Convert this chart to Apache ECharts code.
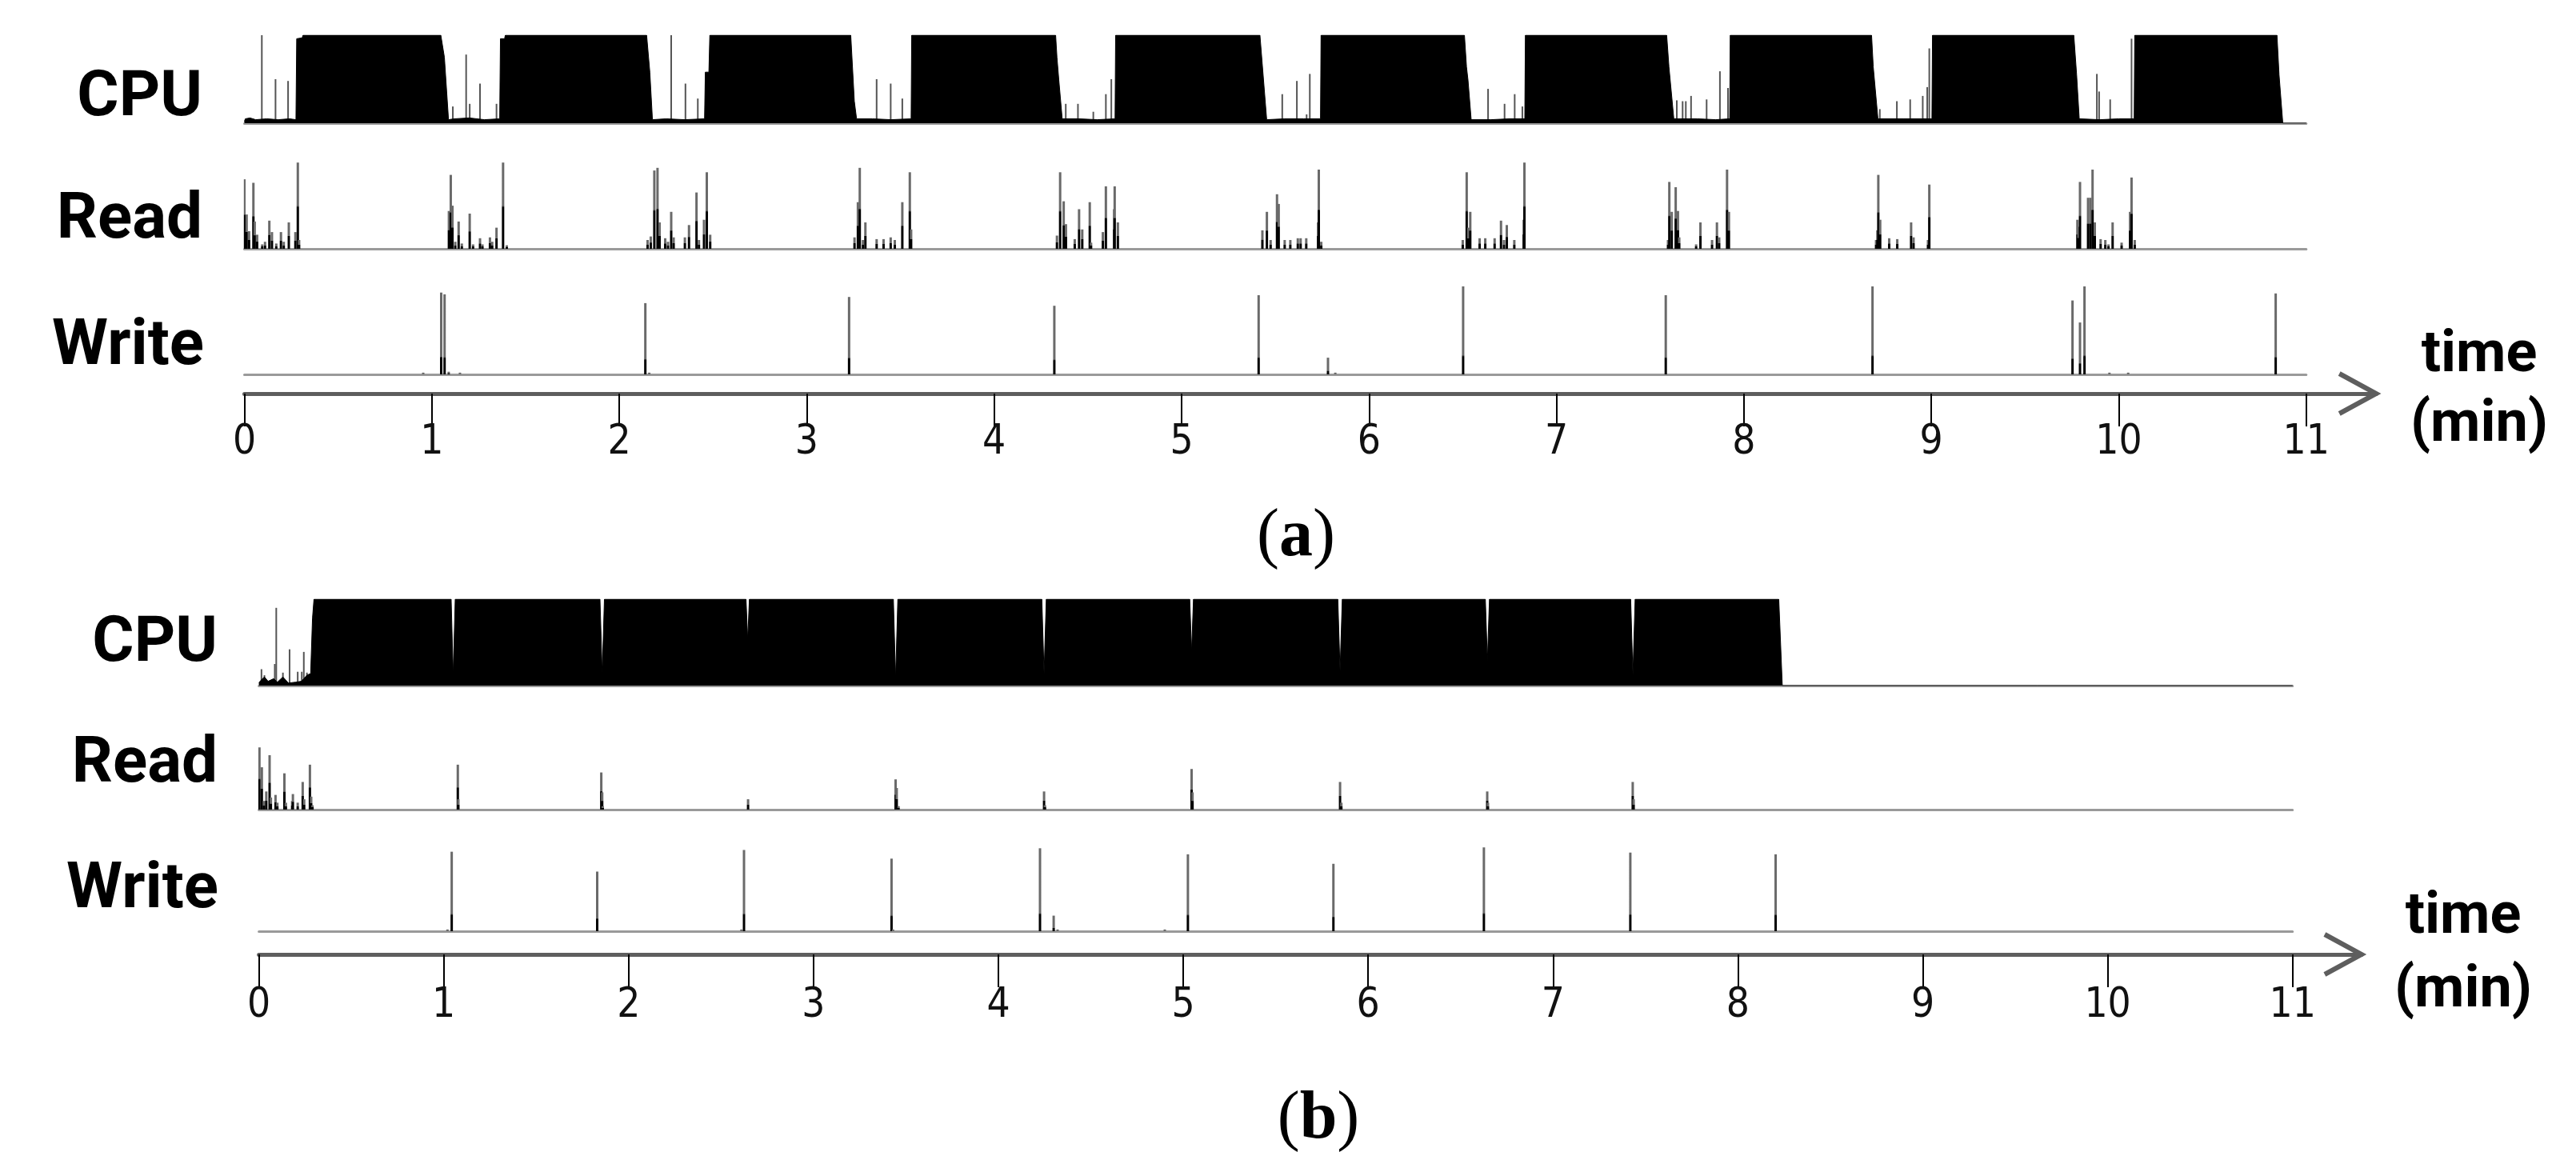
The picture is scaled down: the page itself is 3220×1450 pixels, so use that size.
<!DOCTYPE html>
<html>
<head>
<meta charset="utf-8">
<script src="https://cdn.jsdelivr.net/npm/echarts@6/dist/echarts.min.js"></script>
<style>
html,body{margin:0;padding:0;background:#fff;}
#chart{width:3220px;height:1450px;}
</style>
</head>
<body>
<div id="chart"></div>
<script>
// ---------------- DATA (time in minutes, values in % of panel height) ----------------
const timeTicks = [0,1,2,3,4,5,6,7,8,9,10,11];
const panelNames = ['CPU','Read','Write'];

// (a) CPU utilisation outline
const cpuA = [
 [0,2],[0.005,5],[0.03,6],[0.06,4],[0.12,5],[0.18,4],[0.24,5],[0.275,4],
 [0.279,96],[0.308,97],[0.313,100],
 [1.048,100],[1.067,75],[1.089,4],
 [1.12,5],[1.2,6],[1.28,4],[1.362,5],
 [1.366,96],[1.388,96],[1.392,100],
 [2.146,100],[2.163,58],[2.177,4],
 [2.25,5],[2.35,4],[2.455,5],
 [2.459,58],[2.478,58],[2.483,100],
 [3.235,100],[3.254,25],[3.266,5],
 [3.35,5],[3.45,4],[3.557,5],
 [3.56,100],
 [4.328,100],[4.335,75],[4.345,49],[4.363,5],
 [4.45,5],[4.55,4],[4.645,5],
 [4.648,100],
 [5.418,100],[5.43,68],[5.454,4],
 [5.55,5],[5.65,5],[5.741,5],
 [5.744,100],
 [6.509,100],[6.52,64],[6.528,49],[6.545,4],
 [6.65,4],[6.75,5],[6.831,5],
 [6.834,100],
 [7.588,100],[7.60,64],[7.626,5],
 [7.75,5],[7.85,4],[7.924,5],
 [7.927,100],
 [8.681,100],[8.69,64],[8.715,5],
 [8.85,5],[8.95,5],[9.003,5],
 [9.006,100],
 [9.76,100],[9.775,55],[9.789,5],
 [9.9,4],[10.0,5],[10.082,5],
 [10.085,100],
 [10.844,100],[10.855,55],[10.875,0],
 [11,0]
];
// (a) CPU short bursts during idle phases
const cpuSpikesA = [
 [0.093,100],[0.166,50],[0.233,48],
 [1.112,19],[1.183,78],[1.202,22],[1.257,45],[1.345,22],
 [2.277,100],[2.353,45],[2.419,28],
 [3.373,50],[3.448,45],[3.51,28],
 [4.382,22],[4.447,22],[4.529,13],[4.596,33],[4.625,50],
 [5.537,33],[5.615,48],[5.667,10],[5.684,56],
 [6.635,39],[6.723,22],[6.777,33],[6.818,19],
 [7.642,26],[7.673,25],[7.69,25],[7.718,31],[7.801,27],[7.872,59],[7.915,40],
 [8.725,16],[8.816,25],[8.887,27],[8.954,31],[8.978,41],[8.989,85],
 [9.883,56],[9.895,36],[9.954,27],[10.068,96]
];
// (a) disk read activity
const readA = [
 [0.0,79],[0.012,39],[0.025,20],[0.048,75],[0.055,31],[0.068,16],[0.095,5],[0.11,8],[0.133,32],[0.147,19],[0.17,6],[0.195,19],[0.21,8],[0.237,30],[0.272,19],[0.285,98],[0.292,10],
 [1.091,43],[1.101,84],[1.11,49],[1.125,8],[1.143,31],[1.16,6],[1.202,40],[1.22,5],[1.257,12],[1.27,5],[1.31,13],[1.322,8],[1.345,24],[1.38,98],[1.4,4],
 [2.151,10],[2.168,14],[2.187,89],[2.204,92],[2.215,30],[2.245,12],[2.26,8],[2.277,42],[2.29,13],[2.35,13],[2.372,27],[2.412,64],[2.425,10],[2.452,33],[2.467,87],[2.485,16],
 [3.255,13],[3.273,53],[3.283,92],[3.30,10],[3.313,30],[3.373,11],[3.41,11],[3.448,13],[3.47,10],[3.51,53],[3.55,87],[3.557,22],
 [4.335,15],[4.352,87],[4.371,54],[4.383,28],[4.43,11],[4.453,45],[4.47,22],[4.510,53],[4.517,7],[4.58,19],[4.596,71],[4.64,45],[4.643,71],[4.66,30],
 [5.431,21],[5.455,42],[5.475,10],[5.509,62],[5.518,51],[5.55,10],[5.58,10],[5.62,12],[5.635,12],[5.665,12],[5.728,30],[5.732,90],[5.745,8],
 [6.50,10],[6.521,87],[6.53,24],[6.540,42],[6.59,12],[6.62,12],[6.67,12],[6.704,32],[6.72,10],[6.735,27],[6.775,10],[6.825,33],[6.829,98],
 [7.595,10],[7.602,76],[7.615,42],[7.636,70],[7.648,43],[7.655,13],[7.745,5],[7.768,30],[7.83,10],[7.856,30],[7.868,13],[7.910,90],[7.92,42],
 [8.705,10],[8.712,21],[8.717,84],[8.727,33],[8.775,12],[8.818,11],[8.892,30],[8.905,13],[8.982,10],[8.989,73],
 [9.779,33],[9.785,25],[9.793,76],[9.836,58],[9.848,58],[9.860,90],[9.872,30],[9.903,11],[9.928,10],[9.945,5],[9.967,30],[10.015,7],[10.06,42],[10.068,81],[10.085,10]
];
// (a) disk write activity
const writeA = [
 [0.954,2],[1.05,93],[1.068,91],[1.09,3],[1.15,2],[2.139,81],[2.16,2],[3.226,88],[4.321,78],
 [5.411,90],[5.781,19],[5.82,2],[6.502,100],[7.583,90],[8.686,100],
 [9.753,84],[9.793,59],[9.817,100],[9.95,2],[10.05,2],[10.837,92]
];

// (b) CPU utilisation outline
const cpuB = [
 [0,3],[0.01,6],[0.03,10],[0.05,5],[0.08,8],[0.1,4],[0.13,10],[0.16,3],[0.2,4],[0.23,5],[0.26,12],[0.28,14],
 [0.29,78],[0.298,100],
 [1.040,100],[1.051,12],[1.062,100],
 [1.845,100],[1.857,14],[1.869,100],
 [2.635,100],[2.644,53],[2.653,100],
 [3.432,100],[3.444,8],[3.456,100],
 [4.235,100],[4.247,14],[4.259,100],
 [5.035,100],[5.045,39],[5.055,100],
 [5.836,100],[5.848,17],[5.860,100],
 [6.634,100],[6.645,29],[6.656,100],
 [7.420,100],[7.432,12],[7.444,100],
 [8.221,100],[8.24,0],[11,0]
];
const cpuSpikesB = [
 [0.014,19],[0.03,12],[0.086,25],[0.094,90],[0.13,15],[0.166,42],[0.21,16],[0.232,16],[0.243,39],[0.26,15]
];
const readB = [
 [0.003,72],[0.016,49],[0.028,10],[0.04,21],[0.058,63],[0.065,14],[0.09,17],[0.1,8],[0.138,42],[0.146,8],[0.18,10],[0.184,18],[0.21,8],[0.237,32],[0.245,12],[0.276,52],[0.283,15],[0.29,5],
 [1.076,52],[1.079,12],[1.852,43],[1.857,20],[1.86,4],[2.646,12],[3.444,35],[3.45,25],[3.46,4],
 [4.247,21],[4.252,5],[5.045,47],[5.05,20],[5.848,32],[5.855,8],[6.644,21],[6.648,8],[7.431,32],[7.436,12]
];
const writeB = [
 [1.02,2],[1.043,92],[1.830,69],[2.61,2],[2.624,94],[3.422,84],[3.43,2],[4.225,96],[4.299,18],[4.32,2],
 [4.9,2],[5.025,89],[5.812,78],[6.626,97],[7.418,91],[8.204,89]
];

// ---------------- LAYOUT ----------------
const AXIS_END = 11.373; // arrow tip, in minutes
const panels = [
 {left:305.5, ppm:234.3, tops:[44,201,358], h:110, axisY:492, labelRight:[253,253,255], labelY:[124,277,435],
  cpu:cpuA, cpuSp:cpuSpikesA, read:readA, write:writeA, labelMargin:36,
  timeY:[446,533], timeX:3099, cap:'a', capX:1620, capY:672},
 {left:323.6, ppm:231.1, tops:[749,904,1056], h:108, axisY:1193, labelRight:[272,272,273], labelY:[806,957,1114],
  cpu:cpuB, cpuSp:cpuSpikesB, read:readB, write:writeB, labelMargin:39,
  timeY:[1148,1240], timeX:3079, cap:'b', capX:1648, capY:1400}
];

const chart = echarts.init(document.getElementById('chart'), null, {renderer:'canvas'});
const grids=[], xAxes=[], yAxes=[], series=[], graphics=[];

function grad(stop){
  return new echarts.graphic.LinearGradient(0,0,0,1,[
    {offset:0,color:'#6a6a6a'},{offset:stop,color:'#6a6a6a'},
    {offset:Math.min(1,stop+0.02),color:'#000'},{offset:1,color:'#000'}]);
}

panels.forEach(function(p){
  const w = 11*p.ppm;
  for (let k=0;k<3;k++){
    const gi = grids.length;
    grids.push({left:p.left, top:p.tops[k], width:w, height:p.h, containLabel:false});
    xAxes.push({type:'value', gridIndex:gi, min:0, max:11,
      axisLine:{show:true, lineStyle:{color:'#9a9a9a', width:3}},
      axisTick:{show:false}, axisLabel:{show:false}, splitLine:{show:false}});
    yAxes.push({type:'value', gridIndex:gi, min:0, max:100, show:false});
    if (k===0){
      series.push({type:'line', xAxisIndex:gi, yAxisIndex:gi, data:p.cpu, symbol:'none',
        lineStyle:{color:'#000', width:1}, areaStyle:{color:'#000', opacity:1}, z:3, silent:true});
      series.push({type:'bar', xAxisIndex:gi, yAxisIndex:gi, data:p.cpuSp, barWidth:2,
        itemStyle:{color:'#555'}, z:2, silent:true});
    } else if (k===1){
      series.push({type:'bar', xAxisIndex:gi, yAxisIndex:gi, data:p.read, barWidth:3,
        itemStyle:{color:grad(0.5)}, z:2, silent:true});
    } else {
      series.push({type:'bar', xAxisIndex:gi, yAxisIndex:gi, data:p.write, barWidth:3,
        itemStyle:{color:grad(0.78)}, z:2, silent:true});
    }
    graphics.push({type:'text',
      style:{text:panelNames[k], x:p.labelRight[k], y:p.labelY[k], align:'right', verticalAlign:'middle',
        font:'bold 80px Roboto, "Noto Sans", sans-serif', fill:'#000'}});
  }
  // time axis
  const gi = grids.length;
  grids.push({left:p.left, top:p.axisY-1, width:AXIS_END*p.ppm, height:1});
  xAxes.push({type:'value', gridIndex:gi, min:0, max:AXIS_END, interval:1,
    axisLine:{show:true, lineStyle:{color:'#5e5e5e', width:5}},
    axisTick:{show:true, customValues:timeTicks, length:41, lineStyle:{color:'#000', width:2}},
    axisLabel:{show:true, customValues:timeTicks, margin:p.labelMargin, color:'#111',
      fontFamily:'"Liberation Sans Narrow","DejaVu Sans Condensed",sans-serif', fontSize:51,
      verticalAlign:'top'},
    splitLine:{show:false}});
  yAxes.push({type:'value', gridIndex:gi, min:0, max:1, show:false});
  // arrow head (open chevron)
  const tipX = p.left + AXIS_END*p.ppm;
  graphics.push({type:'polyline', shape:{points:[[tipX-46,p.axisY-25],[tipX,p.axisY],[tipX-46,p.axisY+25]]},
    style:{stroke:'#5e5e5e', lineWidth:6, fill:null, lineJoin:'miter'}, z:10});
  graphics.push({type:'text', style:{text:'time', x:p.timeX, y:p.timeY[0], align:'center', verticalAlign:'middle',
    font:'bold 72px Roboto, "Noto Sans", sans-serif', fill:'#000'}});
  graphics.push({type:'text', style:{text:'(min)', x:p.timeX, y:p.timeY[1], align:'center', verticalAlign:'middle',
    font:'bold 72px Roboto, "Noto Sans", sans-serif', fill:'#000'}});
  graphics.push({type:'text', style:{text:'({b|' + p.cap + '})', x:p.capX, y:p.capY, align:'center', verticalAlign:'middle',
    font:'84px "Liberation Serif", serif', fill:'#000',
    rich:{b:{fontWeight:'bold', fontSize:84, fontFamily:'"Liberation Serif", serif', fill:'#000'}}}});
});

chart.setOption({
  backgroundColor:'#fff',
  animation:false,
  grid:grids, xAxis:xAxes, yAxis:yAxes, series:series,
  graphic:{elements:graphics}
});
</script>
</body>
</html>
